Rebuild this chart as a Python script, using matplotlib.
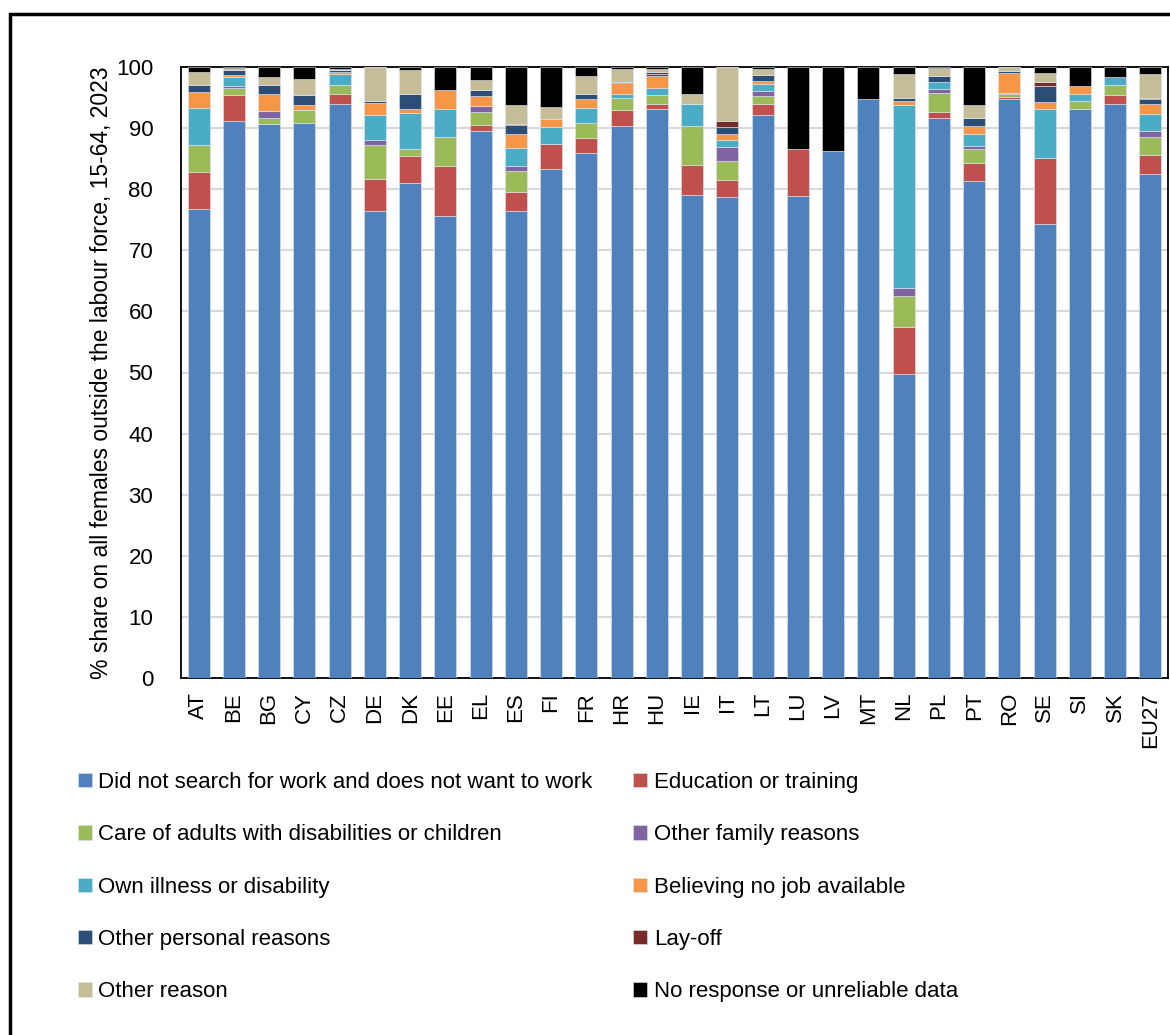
import matplotlib.pyplot as plt
from matplotlib.patches import Rectangle
import numpy as np

plt.rcParams['font.family'] = ['Liberation Sans', 'DejaVu Sans']

countries = ['AT', 'BE', 'BG', 'CY', 'CZ', 'DE', 'DK', 'EE', 'EL', 'ES', 'FI', 'FR', 'HR', 'HU',
             'IE', 'IT', 'LT', 'LU', 'LV', 'MT', 'NL', 'PL', 'PT', 'RO', 'SE', 'SI', 'SK', 'EU27']

not_want = [76.7, 91.1, 90.7, 90.9, 93.9, 76.4, 81.0, 75.6, 89.6, 76.4, 83.3, 86.0, 90.4, 93.1,
            79.0, 78.7, 92.2, 78.9, 86.3, 94.7, 49.7, 91.7, 81.3, 94.7, 74.3, 93.1, 94.0, 82.5]
education = [6.1, 4.3, 0.0, 0.0, 1.7, 5.3, 4.5, 8.2, 0.9, 3.2, 4.1, 2.4, 2.5, 0.8,
             5.0, 2.8, 1.8, 7.6, 0.0, 0.0, 7.7, 0.9, 3.0, 0.4, 10.8, 0.0, 1.4, 3.1]
care = [4.5, 1.1, 1.0, 2.0, 1.5, 5.6, 1.0, 4.7, 2.2, 3.3, 0.0, 2.4, 2.1, 1.5,
        6.3, 3.1, 1.2, 0.0, 0.0, 0.0, 5.2, 3.2, 2.2, 0.4, 0.0, 1.3, 1.6, 3.0]
family = [0.0, 0.4, 1.1, 0.0, 0.0, 0.7, 0.0, 0.0, 0.9, 0.9, 0.0, 0.0, 0.0, 0.0,
          0.0, 2.3, 0.9, 0.0, 0.0, 0.0, 1.2, 0.6, 0.5, 0.2, 0.0, 0.0, 0.0, 0.9]
illness = [6.0, 1.4, 0.0, 0.0, 1.8, 4.2, 6.0, 4.6, 0.0, 3.0, 2.8, 2.5, 0.5, 1.2,
           3.6, 1.2, 1.1, 0.0, 0.0, 0.0, 30.0, 1.1, 2.0, 0.0, 8.0, 1.2, 1.3, 2.8]
no_job = [2.6, 0.4, 2.8, 0.8, 0.3, 1.9, 0.7, 3.1, 1.6, 2.2, 1.3, 1.5, 1.8, 2.0,
          0.0, 1.0, 0.5, 0.0, 0.0, 0.0, 0.7, 0.0, 1.3, 3.3, 1.2, 1.3, 0.0, 1.6]
personal = [1.1, 0.8, 1.5, 1.7, 0.3, 0.4, 2.4, 0.0, 1.0, 1.5, 0.0, 0.8, 0.2, 0.3,
            0.0, 1.1, 1.0, 0.0, 0.0, 0.0, 0.5, 1.0, 1.3, 0.3, 2.6, 0.0, 0.0, 0.8]
layoff = [0.0, 0.0, 0.0, 0.0, 0.0, 0.0, 0.0, 0.0, 0.0, 0.1, 0.0, 0.0, 0.0, 0.3,
          0.0, 0.9, 0.0, 0.0, 0.0, 0.0, 0.0, 0.0, 0.0, 0.0, 0.6, 0.0, 0.0, 0.3]
other = [2.1, 0.4, 1.3, 2.7, 0.2, 5.5, 3.9, 0.0, 1.7, 3.2, 2.0, 3.0, 2.1, 0.4,
         1.7, 8.9, 0.9, 0.0, 0.0, 0.0, 3.9, 1.3, 2.1, 0.7, 1.5, 0.0, 0.0, 3.9]
no_resp = [0.9, 0.1, 1.6, 1.9, 0.3, 0.0, 0.5, 3.8, 2.1, 6.2, 6.5, 1.4, 0.4, 0.4,
           4.4, 0.0, 0.4, 13.5, 13.7, 5.3, 1.1, 0.2, 6.3, 0.0, 1.0, 3.1, 1.7, 1.1]

series = [
    ('Did not search for work and does not want to work', not_want, '#4F81BD'),
    ('Education or training', education, '#C0504D'),
    ('Care of adults with disabilities or children', care, '#9BBB59'),
    ('Other family reasons', family, '#8064A2'),
    ('Own illness or disability', illness, '#4BACC6'),
    ('Believing no job available', no_job, '#F79646'),
    ('Other personal reasons', personal, '#2C4D75'),
    ('Lay-off', layoff, '#772C2A'),
    ('Other reason', other, '#C4BD97'),
    ('No response or unreliable data', no_resp, '#000000'),
]

fig = plt.figure(figsize=(11.7, 10.35), dpi=100)
ax = fig.add_axes([181/1170, 1 - 678/1035, 987/1170, 611/1035])

x = np.arange(len(countries))
bottom = np.zeros(len(countries))
handles = []
for name, vals, col in series:
    vals = np.array(vals)
    b = ax.bar(x, vals, 0.62, bottom=bottom, color=col, edgecolor='#dfe6f0', linewidth=0.4,
               label=name, zorder=3)
    handles.append(b)
    bottom += vals

ax.set_xlim(-0.5, len(countries) - 0.5)
ax.set_ylim(0, 100)
ax.set_yticks(range(0, 101, 10))
ax.yaxis.grid(True, color='#d9d9d9', linewidth=1.5, zorder=0)
ax.set_xticks(x)
ax.set_xticklabels(countries, rotation=90)
ax.tick_params(length=0, labelsize=16)
ax.tick_params(axis='y', pad=20)
ax.tick_params(axis='x', pad=10)
for s in ax.spines.values():
    s.set_linewidth(1.3)
ax.set_ylabel('% share on all females outside the labour force, 15-64, 2023', fontsize=16.5, labelpad=2)

order = [0, 2, 4, 6, 8, 1, 3, 5, 7, 9]
fig.legend([handles[i] for i in order], [series[i][0] for i in order],
           loc='upper left', bbox_to_anchor=(78/1170, 1 - 772/1035), ncol=2, frameon=False,
           fontsize=16, handlelength=0.62, handleheight=0.62, handletextpad=0.3,
           labelspacing=1.41, columnspacing=1.83, borderpad=0, borderaxespad=0)

# outer frame
fig.patches.append(Rectangle((10/1170, -0.05), 1.1, 1 - 14/1035 + 0.05, transform=fig.transFigure,
                             fill=False, edgecolor='black', linewidth=2.5))

fig.savefig('out.png', dpi=100)
